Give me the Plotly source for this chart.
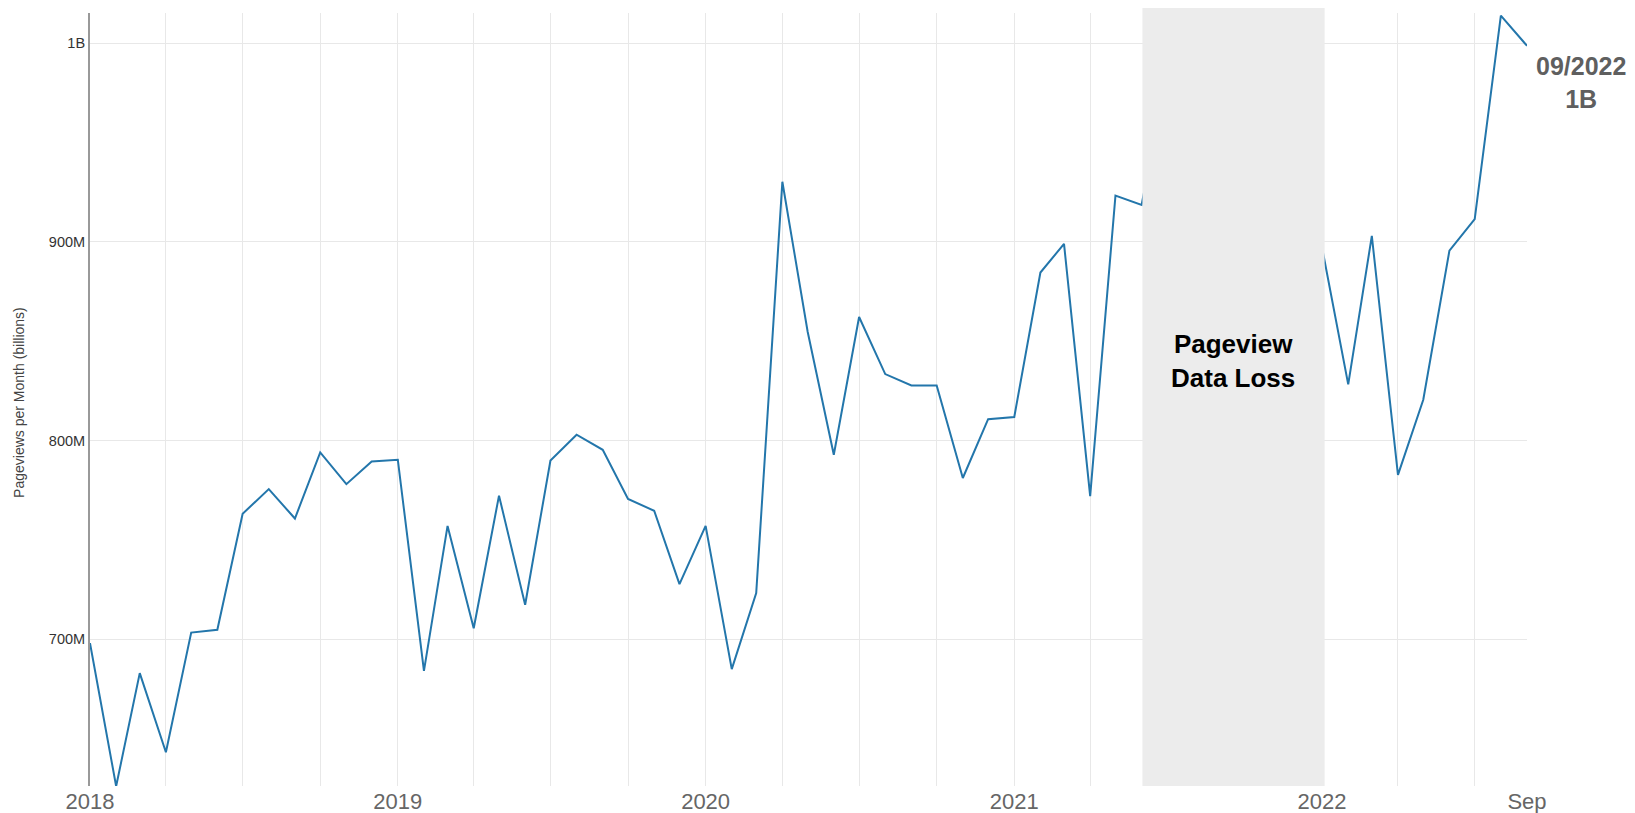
import pandas as pd
import plotly.graph_objects as go

# Monthly pageviews (millions), Jan 2018 .. Sep 2022
months = pd.date_range("2018-01-01", "2022-09-01", freq="MS")
views_2018 = [698.0, 626.0, 682.9, 643.1, 703.3, 704.7, 763.1, 775.5, 760.7, 794.0, 778.0, 789.4]
views_2019 = [790.3, 684.0, 757.0, 705.5, 772.2, 717.3, 789.9, 802.9, 795.3, 770.6, 764.6, 727.7]
views_2020 = [757.0, 684.9, 723.2, 930.2, 854.7, 792.8, 862.1, 833.4, 827.7, 827.7, 781.1, 810.7]
views_2021 = [811.8, 884.5, 898.9, 772.0, 923.2, 918.5, 985.0, 950.0, 930.0, 945.0, 960.0, 920.0]
views_2022 = [897.0, 828.2, 902.9, 782.7, 820.5, 895.5, 911.4, 1013.8, 998.6]
views_m = views_2018 + views_2019 + views_2020 + views_2021 + views_2022
views = [v * 1e6 for v in views_m]

y_tickvals = [700e6, 800e6, 900e6, 1000e6]
y_ticktext = ["700M", "800M", "900M", "1B"]

x_gridvals = pd.date_range("2018-01-01", "2022-07-01", freq="QS")
x_ticktext = [str(d.year) if d.month == 1 else "" for d in x_gridvals]

loss_start = "2021-06-02"
loss_end = "2022-01-04"
loss_mid = "2021-09-17"

FONT = "Liberation Sans, Arial, Helvetica, sans-serif"

fig = go.Figure()
fig.add_trace(go.Scatter(
    x=months, y=views, mode="lines",
    line=dict(color="#2376ab", width=2),
    showlegend=False, hoverinfo="x+y",
))

fig.update_layout(
    template="none",
    width=1635, height=813,
    margin=dict(l=90, r=108, t=13, b=27),
    paper_bgcolor="white", plot_bgcolor="white",
    font=dict(family=FONT),
    showlegend=False,
    xaxis=dict(
        type="date",
        range=["2018-01-01", "2022-09-01"],
        tickmode="array",
        tickvals=list(x_gridvals),
        ticktext=x_ticktext,
        showgrid=True, gridcolor="#e8e8e8", gridwidth=1,
        showline=False, zeroline=False, ticks="",
        tickfont=dict(size=22, color="#666666", family=FONT),
        automargin=False,
    ),
    xaxis2=dict(
        type="date",
        overlaying="x", anchor="y", side="bottom",
        range=["2018-01-01", "2022-09-01"],
        tickmode="array",
        tickvals=["2022-09-01"],
        ticktext=["Sep"],
        showgrid=False, showline=False, zeroline=False, ticks="",
        tickfont=dict(size=22, color="#666666", family=FONT),
        automargin=False,
    ),
    yaxis=dict(
        range=[626.1e6, 1015.1e6],
        tickmode="array",
        tickvals=y_tickvals,
        ticktext=y_ticktext,
        showgrid=True, gridcolor="#e8e8e8", gridwidth=1,
        showline=True, linecolor="#999999", linewidth=2,
        zeroline=False, ticks="",
        tickfont=dict(size=14.5, color="#333333", family=FONT),
        automargin=False,
    ),
    shapes=[dict(
        type="rect", xref="x", yref="paper",
        x0=loss_start, x1=loss_end, y0=0, y1=1.0065,
        fillcolor="#ececec", line=dict(width=0), layer="above",
    )],
    annotations=[
        dict(
            x=-0.0499, y=0.496, xref="paper", yref="paper",
            text="Pageviews per Month (billions)", showarrow=False,
            textangle=-90, xanchor="center", yanchor="middle",
            font=dict(size=14, color="#444444", family=FONT),
        ),
        dict(
            x=loss_mid, y=839.9e6, xref="x", yref="y",
            text="<b>Pageview<br>Data Loss</b>", showarrow=False,
            xanchor="center", yanchor="middle",
            font=dict(size=26, color="#000000", family=FONT),
        ),
        dict(
            x=1.0379, y=0.9107, xref="paper", yref="paper",
            text="<b>09/2022<br>1B</b>", showarrow=False,
            xanchor="center", yanchor="middle",
            font=dict(size=25, color="#5f5f5f", family=FONT),
        ),
    ],
)

# invisible point so the secondary x axis (carrying the "Sep" label) is rendered
fig.add_trace(go.Scatter(x=[months[-1]], y=[views[-1]], xaxis="x2", mode="markers",
                         marker=dict(opacity=0), showlegend=False, hoverinfo="skip"))

fig.write_html(
    "out.html",
    config={"displayModeBar": False},
    post_script="document.body.style.margin='0px';document.body.style.overflow='hidden';",
)
